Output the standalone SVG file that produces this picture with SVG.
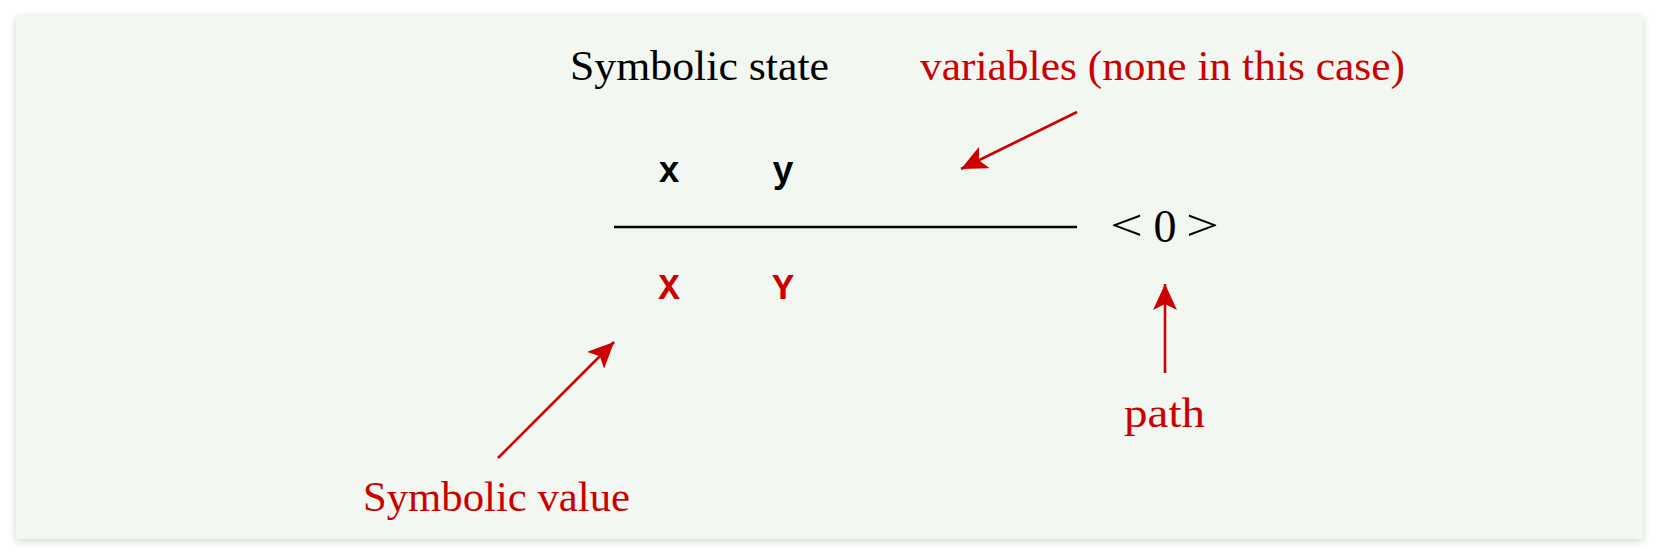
<svg xmlns="http://www.w3.org/2000/svg" width="1660" height="556" viewBox="0 0 1660 556">
<defs>
<filter id="sh" x="-5%" y="-5%" width="110%" height="115%">
<feGaussianBlur in="SourceAlpha" stdDeviation="4"/>
<feOffset dx="0" dy="2"/>
<feComponentTransfer><feFuncA type="linear" slope="0.18"/></feComponentTransfer>
<feMerge><feMergeNode/><feMergeNode in="SourceGraphic"/></feMerge>
</filter>
<marker id="ah" markerUnits="userSpaceOnUse" markerWidth="28" markerHeight="24" refX="26" refY="12" orient="auto">
<path d="M0,0 L26,12 L0,24 L6,12 Z" fill="#cc0000"/>
</marker>
</defs>
<style>
.serif{font-family:"Liberation Serif","DejaVu Serif",serif;}
.mono{font-family:"Liberation Mono","DejaVu Sans Mono",monospace;font-weight:bold;}
.red{fill:#cc0000;}
.blk{fill:#000;}
.arr{stroke:#cc0000;stroke-width:2.6;fill:none;marker-end:url(#ah);}
</style>
<rect x="0" y="0" width="1660" height="556" fill="#ffffff"/>
<rect x="16" y="16" width="1627" height="523" fill="#f3f7f2" filter="url(#sh)"/>
<g id="title"><text class="serif blk" x="570" y="80" font-size="42" textLength="259" lengthAdjust="spacingAndGlyphs">Symbolic state</text></g>
<g id="variables-label"><text class="serif red" x="920" y="80" font-size="42" textLength="485" lengthAdjust="spacingAndGlyphs">variables (none in this case)</text></g>
<g id="var-x"><text class="mono blk" x="669" y="182" font-size="36" text-anchor="middle">x</text></g>
<g id="var-y"><text class="mono blk" x="783" y="182" font-size="36" text-anchor="middle">y</text></g>
<g id="separator"><line x1="614" y1="227" x2="1077" y2="227" stroke="#000" stroke-width="2.6"/></g>
<g id="path-value">
<text class="serif blk" x="1110" y="240" font-size="44" textLength="33" lengthAdjust="spacingAndGlyphs">&lt;</text>
<text class="serif blk" x="1165" y="242" font-size="46" text-anchor="middle">0</text>
<text class="serif blk" x="1186" y="240" font-size="44" textLength="33" lengthAdjust="spacingAndGlyphs">&gt;</text>
</g>
<g id="val-X"><text class="mono red" x="669" y="299" font-size="36" text-anchor="middle">X</text></g>
<g id="val-Y"><text class="mono red" x="783" y="299" font-size="36" text-anchor="middle">Y</text></g>
<g id="path-label"><text class="serif red" x="1124" y="427" font-size="42" textLength="81" lengthAdjust="spacingAndGlyphs">path</text></g>
<g id="symbolic-value-label"><text class="serif red" x="363" y="511" font-size="42" textLength="267" lengthAdjust="spacingAndGlyphs">Symbolic value</text></g>
<g id="connectors">
<line class="arr" x1="1077" y1="112" x2="961" y2="169"/>
<line class="arr" x1="498" y1="458" x2="614" y2="342"/>
<line class="arr" x1="1165" y1="373" x2="1165" y2="284"/>
</g>
</svg>
